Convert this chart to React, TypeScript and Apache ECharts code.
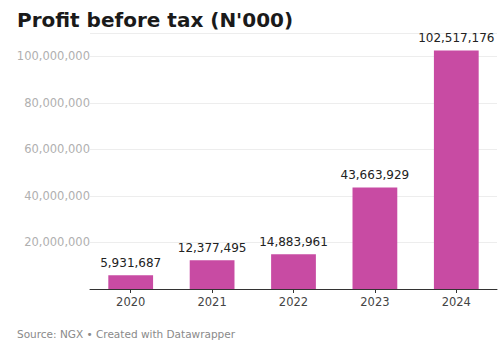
import React, { useEffect, useRef } from "react";
import * as echarts from "echarts";

const years = ["2020", "2021", "2022", "2023", "2024"];
const profit = [5931687, 12377495, 14883961, 43663929, 102517176];
const yTicks = [0, 20000000, 40000000, 60000000, 80000000, 100000000];

const fmt = (v: number) => v.toLocaleString("en-US");
const FONT = "DejaVu Sans";

export default function App() {
  const ref = useRef<HTMLDivElement>(null);
  useEffect(() => {
    if (!ref.current) return;
    const chart = echarts.init(ref.current, null, { renderer: "svg" });
    chart.setOption({
      animation: false,
      backgroundColor: "#ffffff",
      title: [
        {
          text: "Profit before tax (N'000)",
          left: 12,
          top: 5,
          textStyle: {
            fontFamily: FONT,
            fontWeight: "bold",
            fontSize: 20,
            color: "#1a1a1a",
          },
        },
        {
          text: "Source: NGX • Created with Datawrapper",
          left: 12,
          top: 323,
          textStyle: {
            fontFamily: FONT,
            fontWeight: "normal",
            fontSize: 10.5,
            color: "#8a8a8a",
          },
        },
      ],
      grid: { left: 90, right: 5, top: 33, bottom: 57, containLabel: false },
      xAxis: {
        type: "category",
        data: years,
        axisLine: { show: true, lineStyle: { color: "#333333", width: 1 } },
        axisTick: { show: true, alignWithLabel: true, length: 4, lineStyle: { color: "#333333" } },
        axisLabel: { color: "#444444", fontSize: 11.5, fontFamily: FONT, margin: 7 },
      },
      yAxis: {
        type: "value",
        min: 0,
        max: 110000000,
        interval: 20000000,
        axisLine: { show: false },
        axisTick: { show: false },
        splitLine: { show: true, lineStyle: { color: "#ededed", width: 1 } },
        axisLabel: {
          color: "#b0b0b0",
          fontSize: 11.5,
          fontFamily: FONT,
          margin: 0,
          showMaxLabel: false,
          formatter: (v: number) => (v === 0 || !yTicks.includes(v) ? "" : fmt(v)),
        },
      },
      series: [
        {
          type: "bar",
          data: profit,
          barCategoryGap: "45%",
          itemStyle: { color: "#c84ba3" },
          label: {
            show: true,
            position: "top",
            distance: 6,
            color: "#222222",
            fontSize: 12,
            fontFamily: FONT,
            formatter: (p: any) => fmt(p.value),
          },
        },
      ],
    });
    return () => chart.dispose();
  }, []);
  return <div ref={ref} style={{ width: 502, height: 346, position: "absolute", left: 0, top: 0 }} />;
}
